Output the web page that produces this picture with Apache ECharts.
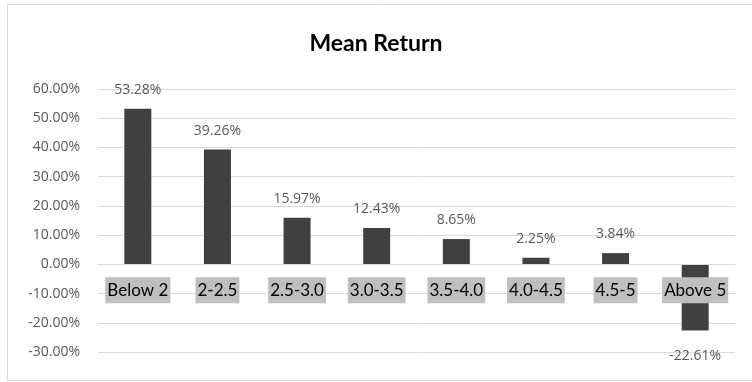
<!DOCTYPE html>
<html>
<head>
<meta charset="utf-8">
<script src="https://cdn.jsdelivr.net/npm/echarts@6/dist/echarts.min.js"></script>
<style>
  html, body { margin: 0; padding: 0; background: #fff; }
  #chart { width: 752px; height: 382px; }
</style>
</head>
<body>
<div id="chart"></div>
<script>
// Return bands and their mean return (percent)
const categories = ['Below 2', '2-2.5', '2.5-3.0', '3.0-3.5', '3.5-4.0', '4.0-4.5', '4.5-5', 'Above 5'];
const meanReturn = [53.28, 39.26, 15.97, 12.43, 8.65, 2.25, 3.84, -22.61];
const yTicks = { min: -30, max: 60, step: 10 };

const pct = v => Number(v).toFixed(2) + '%';

const gridTop = 89, gridBottom = 30, chartH = 382;
const plotH = chartH - gridTop - gridBottom;
// distance from the bottom of the plot up to the zero line
const zeroOffset = plotH * (0 - yTicks.min) / (yTicks.max - yTicks.min);

const chart = echarts.init(document.getElementById('chart'), null, { renderer: 'canvas' });

chart.setOption({
  animation: false,
  backgroundColor: '#ffffff',
  graphic: [{
    type: 'rect',
    shape: { x: 7.5, y: 4.5, width: 760, height: 376 },
    style: { fill: 'none', stroke: '#d9d9d9', lineWidth: 1 },
    silent: true,
    z: -1
  }],
  title: {
    text: 'Mean Return',
    left: 'center',
    top: 27,
    textStyle: { fontFamily: 'Lato', fontSize: 23, fontWeight: 'bold', color: '#000' }
  },
  grid: { left: 98, right: 17, top: gridTop, bottom: gridBottom, containLabel: false, outerBoundsMode: 'none' },
  xAxis: {
    type: 'category',
    data: categories,
    offset: -zeroOffset,
    z: 5,
    axisLine: { show: true, onZero: false, lineStyle: { color: '#d9d9d9' } },
    axisTick: { show: false },
    axisLabel: {
      interval: 0,
      margin: 13,
      fontFamily: 'Lato',
      fontSize: 17,
      color: '#000',
      backgroundColor: '#bfbfbf',
      padding: [3, 2, 3, 2],
      lineHeight: 20
    }
  },
  yAxis: {
    type: 'value',
    min: yTicks.min,
    max: yTicks.max,
    interval: yTicks.step,
    axisLine: { show: false },
    axisTick: { show: false },
    splitLine: { lineStyle: { color: '#d9d9d9', width: 1 } },
    axisLabel: {
      margin: 18,
      fontFamily: 'Open Sans',
      fontSize: 14,
      color: '#595959',
      formatter: pct
    }
  },
  series: [{
    type: 'bar',
    barWidth: 27,
    itemStyle: { color: '#404040' },
    data: meanReturn.map(v => ({
      value: v,
      label: {
        show: true,
        position: v >= 0 ? 'top' : 'bottom',
        distance: v >= 0 ? 12 : 19,
        formatter: p => pct(p.value),
        fontFamily: 'Open Sans',
        fontSize: 14,
        color: '#595959'
      }
    }))
  }]
});
</script>
</body>
</html>
